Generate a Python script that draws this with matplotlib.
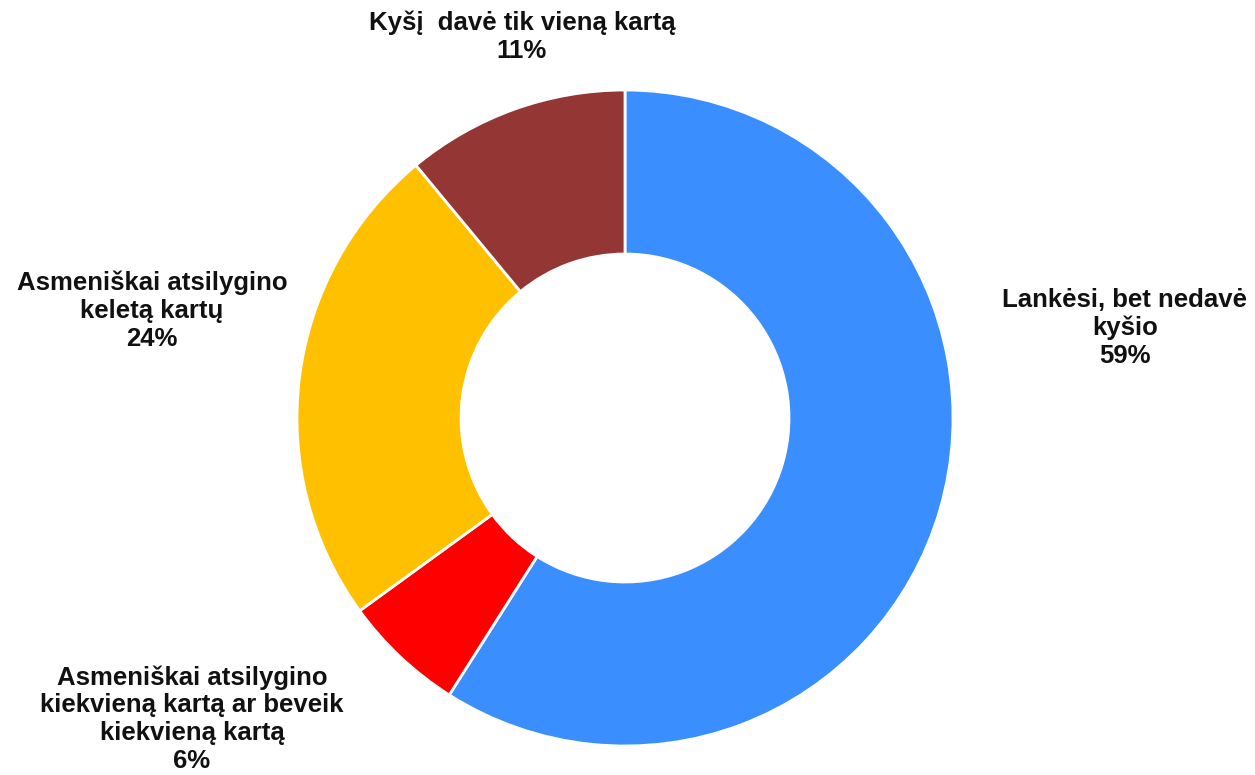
import matplotlib
matplotlib.use('Agg')
import matplotlib.pyplot as plt

# slices, clockwise from the top
labels = ['Lankėsi, bet nedavė\nkyšio',
          'Asmeniškai atsilygino\nkiekvieną kartą ar beveik\nkiekvieną kartą',
          'Asmeniškai atsilygino\nkeletą kartų',
          'Kyšį  davė tik vieną kartą']
values = [59, 6, 24, 11]
colors = ['#3A8EFE', '#FF0000', '#FFC000', '#943634']

# where each label block is centred (figure pixels, from the top left)
label_pos = [(1125, 328), (192, 719), (152, 311), (522, 37)]

plt.rcParams['font.family'] = ['Liberation Sans', 'DejaVu Sans']

W, H = 1255, 775
fig = plt.figure(figsize=(W / 100, H / 100), dpi=100)
cx, cy, r = 625, 418, 328
ax = fig.add_axes([(cx - r) / W, (H - cy - r) / H, 2 * r / W, 2 * r / H])

ax.pie(values, colors=colors, startangle=90, counterclock=False, radius=1,
       wedgeprops=dict(width=0.5, edgecolor='white', linewidth=2))
ax.set_xlim(-1, 1)
ax.set_ylim(-1, 1)
ax.set_aspect('equal')
ax.axis('off')

for lab, v, (px, py) in zip(labels, values, label_pos):
    fig.text(px / W, 1 - py / H, f'{lab}\n{v}%', ha='center', va='center',
             fontsize=18.5, fontweight='bold', linespacing=1.2, color='#111111')

fig.savefig('out.png', dpi=100)
